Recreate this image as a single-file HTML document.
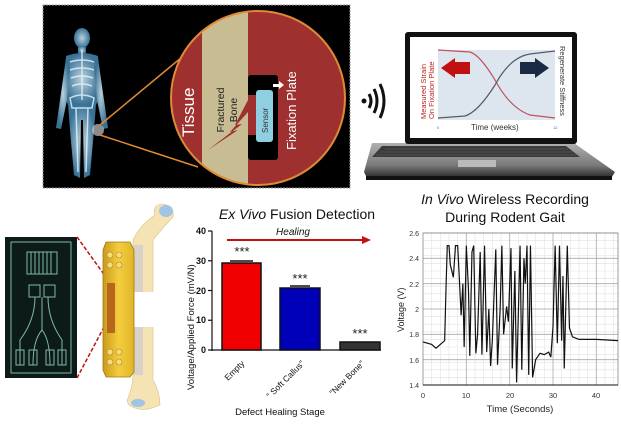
<!DOCTYPE html>
<html><head><meta charset="utf-8"><style>
html,body{margin:0;padding:0;background:#fff;}
svg{display:block;font-family:"Liberation Sans",sans-serif;}
</style></head><body>
<svg width="621" height="424" viewBox="0 0 621 424" xmlns="http://www.w3.org/2000/svg">
<defs>
<radialGradient id="glow" cx="50%" cy="50%" r="50%"><stop offset="0" stop-color="#cfe8f5"/><stop offset="1" stop-color="#3f7fa8"/></radialGradient>
<clipPath id="cc"><circle cx="258" cy="98" r="87"/></clipPath>
<linearGradient id="plate" x1="0" x2="1"><stop offset="0" stop-color="#c99a1c"/><stop offset=".5" stop-color="#f4cd3e"/><stop offset="1" stop-color="#e0b52a"/></linearGradient>
<linearGradient id="lap" x1="0" x2="0" y1="0" y2="1"><stop offset="0" stop-color="#b0b0b0"/><stop offset=".6" stop-color="#7a7a7a"/><stop offset="1" stop-color="#1a1a1a"/></linearGradient>
</defs>
<rect x="43" y="5" width="307" height="183" fill="#000" stroke="#999" stroke-dasharray="2,1"/>
<g fill="url(#glow)" opacity=".9">
<ellipse cx="82" cy="38" rx="8" ry="10"/>
<rect x="78" y="46" width="8" height="8"/>
<path d="M66 56 Q82 50 98 56 L100 95 L96 105 L68 105 L64 95 Z"/>
<path d="M66 58 L60 100 L56 128 L61 129 L67 100 L70 68 Z"/>
<path d="M98 58 L104 100 L108 128 L103 129 L97 100 L94 68 Z"/>
<path d="M68 104 L96 104 L94 130 L90 175 L84 178 L83 120 L81 120 L80 178 L74 175 L70 130 Z"/>
</g>
<g stroke="#e8f4fb" stroke-width="1.5" fill="none" opacity=".8">
<line x1="82" y1="50" x2="82" y2="100"/><path d="M70 62 Q82 58 94 62 M70 70 Q82 66 94 70 M71 78 Q82 74 93 78 M72 86 Q82 82 92 86"/>
<path d="M70 98 Q82 92 94 98 L92 108 L72 108 Z"/><line x1="76" y1="108" x2="78" y2="172"/><line x1="88" y1="108" x2="86" y2="172"/>
</g>
<circle cx="98" cy="130" r="6" fill="#c8c8c8" opacity=".7"/>
<line x1="100" y1="125" x2="199" y2="43" stroke="#e08a35" stroke-width="1.5"/>
<line x1="100" y1="135" x2="198" y2="167" stroke="#e08a35" stroke-width="1.5"/>
<g clip-path="url(#cc)">
<rect x="160" y="0" width="200" height="200" fill="#9e3030"/>
<rect x="202" y="0" width="46" height="200" fill="#c8bc92"/>
<rect x="248" y="75" width="30" height="85" rx="3" fill="#000"/>
<rect x="248" y="95" width="8" height="40" fill="#9e3030"/>
<rect x="256" y="90" width="17" height="52" rx="3" fill="#8fd0e0"/>
<polygon points="248,100 235,125 242,124 208,150 238,130 230,132 248,112" fill="#9e3030"/>
<polygon points="273,84 279,84 279,81 284,85 279,89 279,87 273,87" fill="#fff"/>
</g>
<circle cx="258" cy="98" r="87" fill="none" stroke="#e08a35" stroke-width="2"/>
<text transform="translate(194,137) rotate(-90)" font-size="17" fill="#fff">Tissue</text>
<text transform="translate(224,110) rotate(-90)" font-size="10.5" fill="#222" text-anchor="middle">Fractured</text>
<text transform="translate(237,110) rotate(-90)" font-size="10.5" fill="#222" text-anchor="middle">Bone</text>
<text transform="translate(268,133) rotate(-90)" font-size="8" fill="#333">Sensor</text>
<text transform="translate(296,150) rotate(-90)" font-size="13" fill="#fff">Fixation Plate</text>
<circle cx="364" cy="101" r="2.5" fill="#111"/>
<g fill="none" stroke="#111" stroke-width="3"><path d="M369 94 Q373 101 369 108"/><path d="M374 89 Q380 101 374 113"/><path d="M380 84 Q388 101 380 118"/></g>
<path d="M372 143 L574 143 L615 172 L610 180 L368 180 L364 172 Z" fill="url(#lap)"/>
<path d="M382 146 L566 146 L580 157 L372 157 Z" fill="#3a3a3a"/>
<path d="M385 149 H568 M380 152 H572 M376 155 H576" stroke="#666" stroke-width=".5"/>
<rect x="458" y="160" width="38" height="7" fill="#bbb"/>
<rect x="366" y="176" width="246" height="4" fill="#111"/>
<rect x="405" y="32" width="172" height="112" rx="3" fill="#111"/>
<rect x="410" y="37" width="162" height="101" fill="#fff"/>
<rect x="438" y="50" width="117" height="70" fill="#dde6ef"/>
<path d="M438 50 L470 52 Q480 55 495 80 Q510 108 530 115 L555 118" fill="none" stroke="#c05060" stroke-width="1.2"/>
<path d="M438 118 L465 116 Q478 112 495 85 Q510 57 530 54 L555 51" fill="none" stroke="#555a66" stroke-width="1.2"/>
<polygon points="470,62 455,62 455,58 441,68 455,78 455,74 470,74" fill="#c01010"/>
<polygon points="520,62 535,62 535,58 549,68 535,78 535,74 520,74" fill="#1a2a44"/>
<text transform="translate(426,119) rotate(-90)" font-size="7.5" fill="#c02020">Measured Strain</text>
<text transform="translate(434,119) rotate(-90)" font-size="7.5" fill="#c02020">On Fixation Plate</text>
<text transform="translate(560,46) rotate(90)" font-size="7.5" fill="#333">Regenerate Stiffness</text>
<text x="471" y="130" font-size="8" fill="#333">Time (weeks)</text>
<text x="437" y="129" font-size="4" fill="#55f">0</text><text x="553" y="129" font-size="4" fill="#55f">12</text>
<rect x="5" y="237" width="72" height="141" fill="#0c1a18"/>
<g fill="none" stroke="#7fb8aa" stroke-width="1">
<rect x="11" y="242" width="60" height="131"/>
<rect x="27" y="252" width="30" height="22"/><path d="M31 252 V274 M35 252 V274 M39 252 V274 M43 252 V274 M47 252 V274 M51 252 V274"/>
<rect x="29" y="285" width="11" height="12"/><rect x="44" y="285" width="11" height="12"/>
<path d="M35 297 Q35 320 20 340 V365 M42 297 V330 Q33 340 33 365 M42 297 V330 Q50 340 50 365 M48 297 Q48 320 62 340 V365"/>
<rect x="16" y="350" width="8" height="15"/><rect x="29" y="350" width="8" height="15"/><rect x="46" y="350" width="8" height="15"/><rect x="58" y="350" width="8" height="15"/>
</g>
<line x1="77" y1="237" x2="108" y2="280" stroke="#c01010" stroke-width="1.5" stroke-dasharray="4,2"/>
<line x1="77" y1="378" x2="113" y2="310" stroke="#c01010" stroke-width="1.5" stroke-dasharray="4,2"/>
<path d="M133 240 Q140 225 155 215 Q152 205 162 204 Q175 205 173 217 Q165 225 153 240 L153 380 Q160 392 160 405 Q145 412 135 408 Q125 405 128 398 Q133 385 133 375 Z" fill="#f6e3b4" stroke="#d9c08a" stroke-width=".6"/>
<ellipse cx="166" cy="211" rx="7" ry="6" fill="#9fc4e4"/>
<ellipse cx="138" cy="403" rx="7" ry="4" fill="#9fc4e4"/>
<rect x="133" y="245" width="10" height="130" fill="#d8d2c8"/>
<rect x="133" y="292" width="22" height="35" fill="#fff"/>
<path d="M106 242 L130 242 L134 250 L134 372 L130 377 L106 377 L103 370 L103 250 Z" fill="url(#plate)" stroke="#a07812" stroke-width=".8"/>
<rect x="107" y="283" width="8" height="50" fill="#b8661a"/>
<g fill="#f6dc7a" stroke="#b08820" stroke-width=".6">
<circle cx="110" cy="255" r="3"/><circle cx="119" cy="255" r="3"/><circle cx="110" cy="265" r="3"/><circle cx="119" cy="265" r="3"/>
<circle cx="110" cy="352" r="3"/><circle cx="119" cy="352" r="3"/><circle cx="110" cy="362" r="3"/><circle cx="119" cy="362" r="3"/>
</g>
<text x="297" y="219" font-size="14" text-anchor="middle" fill="#111"><tspan font-style="italic">Ex Vivo</tspan> Fusion Detection</text>
<line x1="227" y1="240" x2="362" y2="240" stroke="#c01010" stroke-width="2"/>
<polygon points="362,236 371,240 362,244" fill="#c01010"/>
<text x="293" y="235" font-size="10" font-style="italic" text-anchor="middle" fill="#111">Healing</text>
<g stroke="#111" stroke-width="1.2">
<line x1="212" y1="231" x2="212" y2="351"/><line x1="212" y1="350" x2="381" y2="350"/>
<line x1="208" y1="231" x2="212" y2="231"/><line x1="208" y1="260.75" x2="212" y2="260.75"/><line x1="208" y1="290.5" x2="212" y2="290.5"/><line x1="208" y1="320.25" x2="212" y2="320.25"/><line x1="208" y1="350" x2="212" y2="350"/>
</g>
<g font-size="9" font-weight="bold" text-anchor="end" fill="#111">
<text x="206" y="234">40</text><text x="206" y="264">30</text><text x="206" y="294">20</text><text x="206" y="323">10</text><text x="206" y="353">0</text></g>
<rect x="222" y="263" width="39" height="87" fill="#f00000" stroke="#111" stroke-width="1.5"/>
<line x1="230" y1="261" x2="253" y2="261" stroke="#111" stroke-width="1.5"/>
<rect x="280" y="288" width="40" height="62" fill="#0000b8" stroke="#111" stroke-width="1.5"/>
<line x1="290" y1="286" x2="310" y2="286" stroke="#111" stroke-width="1.5"/>
<rect x="340" y="342" width="40" height="8" fill="#333" stroke="#111" stroke-width="1.5"/>
<g font-size="13" text-anchor="middle" fill="#222"><text x="242" y="256">***</text><text x="300" y="283">***</text><text x="360" y="338">***</text></g>
<text transform="translate(194,390) rotate(-90)" font-size="9.5" fill="#111">Voltage/Applied Force (mV/N)</text>
<g font-size="8.5" fill="#111" text-anchor="end">
<text transform="translate(245,364) rotate(-45)">Empty</text>
<text transform="translate(305,364) rotate(-45)">" Soft Callus"</text>
<text transform="translate(365,364) rotate(-45)">"New Bone"</text></g>
<text x="280" y="415" font-size="9.5" text-anchor="middle" fill="#111">Defect Healing Stage</text>
<text x="505" y="204" font-size="14" text-anchor="middle" fill="#111"><tspan font-style="italic">In Vivo</tspan> Wireless Recording</text>
<text x="505" y="222" font-size="14" text-anchor="middle" fill="#111">During Rodent Gait</text>
<g stroke="#e2e2e2" stroke-width=".6">
<path d="M423 240.6H618M423 248.2H618M423 255.8H618M423 263.4H618M423 271H618M423 278.6H618M423 286.2H618M423 293.8H618M423 301.4H618M423 309H618M423 316.6H618M423 324.2H618M423 331.8H618M423 339.4H618M423 347H618M423 354.6H618M423 362.2H618M423 369.8H618M423 377.4H618"/>
<path d="M431.7 233V385M440.3 233V385M449 233V385M457.7 233V385M475 233V385M483.7 233V385M492.3 233V385M501 233V385M518.3 233V385M527 233V385M535.7 233V385M544.3 233V385M561.7 233V385M570.3 233V385M579 233V385M587.7 233V385M605 233V385M613.7 233V385"/>
</g>
<g stroke="#a8a8a8" stroke-width=".8">
<path d="M423 233H618M423 258.3H618M423 283.7H618M423 309H618M423 334.3H618M423 359.7H618"/>
<path d="M466.3 233V385M509.7 233V385M553 233V385M596.3 233V385"/>
</g>
<rect x="423" y="233" width="195" height="152" fill="none" stroke="#888" stroke-width=".8"/>
<line x1="423" y1="385" x2="618" y2="385" stroke="#111" stroke-width="1"/>
<g transform="translate(423,385) scale(4.333,-126.7) translate(0,-1.4)">
<polyline vector-effect="non-scaling-stroke" fill="none" stroke="#111" stroke-width="1.2" points="0,1.74 2,1.72 3,1.69 4,1.72 5,1.75 5.3,2.15 5.6,2.5 6,2.5 6.3,2.35 7,2.25 7.5,2.5 8,2.5 8.3,2.3 8.8,1.95 9.2,2.2 9.5,1.7 10,2.5 10.5,2.15 10.8,1.63 11.3,2.45 11.7,2.5 12.2,1.65 12.6,1.8 13.2,2.45 13.6,1.64 14.2,2.5 14.7,1.66 15.2,2 15.6,1.55 16,1.75 16.8,2.47 17.2,1.56 17.8,2 18.2,2.5 18.6,1.8 19.3,2.02 19.7,1.9 20.3,2.48 20.6,1.53 21.2,2.3 21.6,1.42 22.4,2.5 22.8,1.52 23.3,2.4 23.6,2.2 24,2.5 24.4,1.48 24.8,2.5 25.3,1.46 26,1.6 27,1.65 28,1.64 29,1.66 29.5,1.62 30,1.86 30.5,2.5 31,1.73 31.5,2.5 32,1.75 32.3,2.26 32.6,1.53 33.3,2.5 33.8,1.85 34.5,1.78 36,1.76 40,1.76 45,1.75"/>
</g>
<g font-size="7" fill="#333" text-anchor="end">
<text x="419" y="236">2.6</text><text x="419" y="261">2.4</text><text x="419" y="287">2.2</text><text x="419" y="312">2</text><text x="419" y="337">1.8</text><text x="419" y="363">1.6</text><text x="419" y="388">1.4</text></g>
<g font-size="7.5" fill="#333" text-anchor="middle">
<text x="423" y="398">0</text><text x="466" y="398">10</text><text x="510" y="398">20</text><text x="553" y="398">30</text><text x="596" y="398">40</text></g>
<text x="520" y="412" font-size="9.5" text-anchor="middle" fill="#222">Time (Seconds)</text>
<text transform="translate(404,332) rotate(-90)" font-size="9" fill="#222">Voltage (V)</text>
</svg>
</body></html>
